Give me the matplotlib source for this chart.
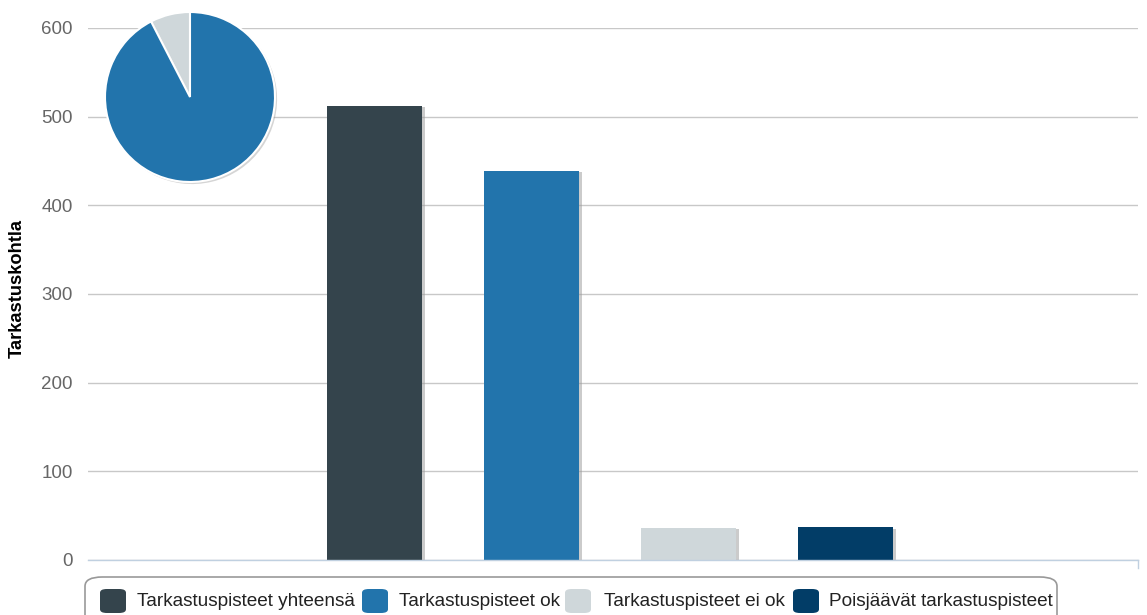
import matplotlib
matplotlib.use("Agg")
import matplotlib.pyplot as plt
from matplotlib.patches import FancyBboxPatch
import matplotlib.patheffects as pe

plt.rcParams['font.family'] = ['Liberation Sans', 'DejaVu Sans']

categories = ["Tarkastuspisteet yhteensä", "Tarkastuspisteet ok",
              "Tarkastuspisteet ei ok", "Poisjäävät tarkastuspisteet"]
values = [512, 439, 36, 37]
colors = ["#34444c", "#2274ac", "#cfd7da", "#023d67"]
pie_values = [36, 439]
pie_colors = ["#cfd7da", "#2274ac"]
yticks = [0, 100, 200, 300, 400, 500, 600]
ylabel = "Tarkastuskohtla"

W, H = 1147, 615
fig = plt.figure(figsize=(W / 100, H / 100), dpi=100)

ax = fig.add_axes([88 / W, 1 - 560 / H, (1138 - 88) / W, (560 - 28) / H])
x = list(range(len(categories)))
bars = ax.bar(x, values, width=0.605, color=colors, zorder=3)
for b in bars:
    b.set_path_effects([pe.SimplePatchShadow(offset=(2, -1), shadow_rgbFace='#999999', alpha=0.5), pe.Normal()])
ax.set_xlim(-1.828, 4.86)
ax.set_ylim(0, 600)
ax.set_yticks(yticks)
ax.set_yticklabels([str(t) for t in yticks], color="#666666", fontsize=13.5)
ax.tick_params(axis='y', length=0, pad=11)
ax.tick_params(axis='x', bottom=False, labelbottom=False)
ax.grid(axis='y', color="#c8c8c8", linewidth=1, zorder=0)
for s in ['top', 'right', 'left']:
    ax.spines[s].set_visible(False)
ax.spines['bottom'].set_color("#c0d0e0")
ax.spines['bottom'].set_linewidth(1)
ax.spines['bottom'].set_zorder(4)
ax.plot([1, 1], [0, -0.015], transform=ax.transAxes, color="#c0d0e0", lw=1, clip_on=False)
ax.set_ylabel(ylabel, fontsize=13.2, fontweight='bold')
ax.yaxis.set_label_coords(-62 / 1050, 0.51)

# pie inset
r = 85
pax = fig.add_axes([(190 - r) / W, 1 - (97 + r) / H, 2 * r / W, 2 * r / H])
wedges, _ = pax.pie(pie_values, colors=pie_colors, startangle=90, counterclock=True,
                    wedgeprops=dict(edgecolor='white', linewidth=1.5))
for w in wedges:
    w.set_path_effects([pe.SimplePatchShadow(offset=(1.5, -1.5), shadow_rgbFace='#888888', alpha=0.35), pe.Normal()])
pax.set_xlim(-1.0, 1.0)
pax.set_ylim(-1.0, 1.0)
pax.set_aspect('equal')
pax.axis('off')

# legend (cut off at bottom)
box = FancyBboxPatch((85 / W, -0.05), (1057 - 85) / W, (0.05 + 1 - 577 / H),
                     boxstyle="round,pad=0,rounding_size=0.015", transform=fig.transFigure,
                     facecolor='white', edgecolor='#999999', linewidth=1.2, clip_on=False)
fig.patches.append(box)
marker_x = [100, 362, 565, 793]
text_x = [137, 399, 604, 829]
ymid = 601
for mx, tx, lab, c in zip(marker_x, text_x, categories, colors):
    m = FancyBboxPatch((mx / W, 1 - (ymid + 12) / H), 26 / W, 24 / H,
                       boxstyle="round,pad=0,rounding_size=0.006", transform=fig.transFigure,
                       facecolor=c, edgecolor='none')
    fig.patches.append(m)
for mx, tx, lab, c in zip(marker_x, text_x, categories, colors):
    fig.text(tx / W, 1 - ymid / H, lab, fontsize=13.7, color="#222222", va='center', ha='left')

fig.savefig("out.png", dpi=100)
